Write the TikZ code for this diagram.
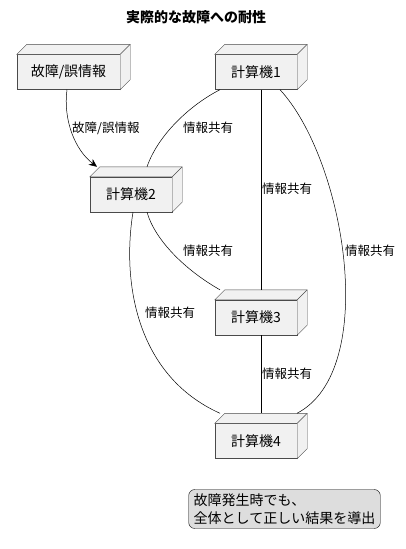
\documentclass[tikz,border=0pt]{standalone}
\usepackage{fontspec}
\setmainfont{Noto Sans CJK JP}
\usetikzlibrary{arrows.meta}

\definecolor{boxfill}{HTML}{F1F1F1}
\definecolor{boxline}{HTML}{4A4A4A}
\definecolor{notefill}{HTML}{DDDDDD}

\begin{document}
\begin{tikzpicture}[x=1pt,y=-1pt,
  machine/.style={draw=boxline, fill=boxfill, minimum width=82pt, minimum height=35pt, inner sep=0pt, font=\fontsize{14}{16}\selectfont},
  face/.style={draw=boxline, fill=boxfill},
  share/.style={draw=black, line width=0.5pt},
  lbl/.style={anchor=west, inner sep=0pt, font=\fontsize{12.5}{14}\selectfont}]
\useasboundingbox (0,0) rectangle (405,549);
\node[font=\bfseries\fontsize{14}{16}\selectfont] (title) at (196,17) {実際的な故障への耐性};

% machines
\node[machine, minimum width=103pt] (fault) at (68.5,72) {故障/誤情報};
\node[machine] (pc1) at (256,72) {計算機1};
\node[machine] (pc2) at (131,194.5) {計算機2};
\node[machine] (pc3) at (256,317.5) {計算機3};
\node[machine] (pc4) at (256,441) {計算機4};
\foreach \n in {fault,pc1,pc2,pc3,pc4} {
  \draw[face] (\n.north west) -- ++(10pt,10pt) -- ([shift={(10pt,10pt)}]\n.north east)
    -- ([shift={(10pt,10pt)}]\n.south east) -- (\n.south east) -- (\n.north east) -- cycle;
  \draw[face] (\n.north east) -- ++(10pt,10pt);
}

% links
\draw[share, -{Stealth[length=8pt,width=7pt,inset=2.5pt]}] ([xshift=-1.5pt]fault.south)
  .. controls (63,120) and (75,150) .. ([shift={(-34pt,10pt)}]pc2.north);
\draw[share] ([xshift=-36pt]pc1.south) .. controls (190,105) and (158,135) .. ([shift={(16pt,10pt)}]pc2.north);
\draw[share] ([xshift=5pt]pc1.south) -- ([shift={(5pt,10pt)}]pc3.north);
\draw[share] ([xshift=24pt]pc1.south) .. controls (345,160) and (380,370) .. ([shift={(41pt,10pt)}]pc4.north);
\draw[share] ([xshift=16pt]pc2.south) .. controls (155,240) and (185,270) .. ([shift={(-36pt,10pt)}]pc3.north);
\draw[share] ([xshift=2pt]pc2.south) .. controls (122,280) and (135,375) .. ([shift={(-36pt,10pt)}]pc4.north);
\draw[share] ([xshift=5pt]pc3.south) -- ([shift={(5pt,10pt)}]pc4.north);

\node[lbl] (l0) at (72,128) {故障/誤情報};
\node[lbl] (l12) at (183,128) {情報共有};
\node[lbl] (l13) at (262,189) {情報共有};
\node[lbl] (l14) at (345,251) {情報共有};
\node[lbl] (l23) at (183,251) {情報共有};
\node[lbl] (l24) at (145,313) {情報共有};
\node[lbl] (l34) at (262,374) {情報共有};

% note
\node[draw=black, fill=notefill, rounded corners=6pt, align=left, inner xsep=5pt, inner ysep=4pt,
  font=\fontsize{14}{18}\selectfont] (note) at (284.5,509) {故障発生時でも、\\全体として正しい結果を導出};
\end{tikzpicture}
\end{document}
